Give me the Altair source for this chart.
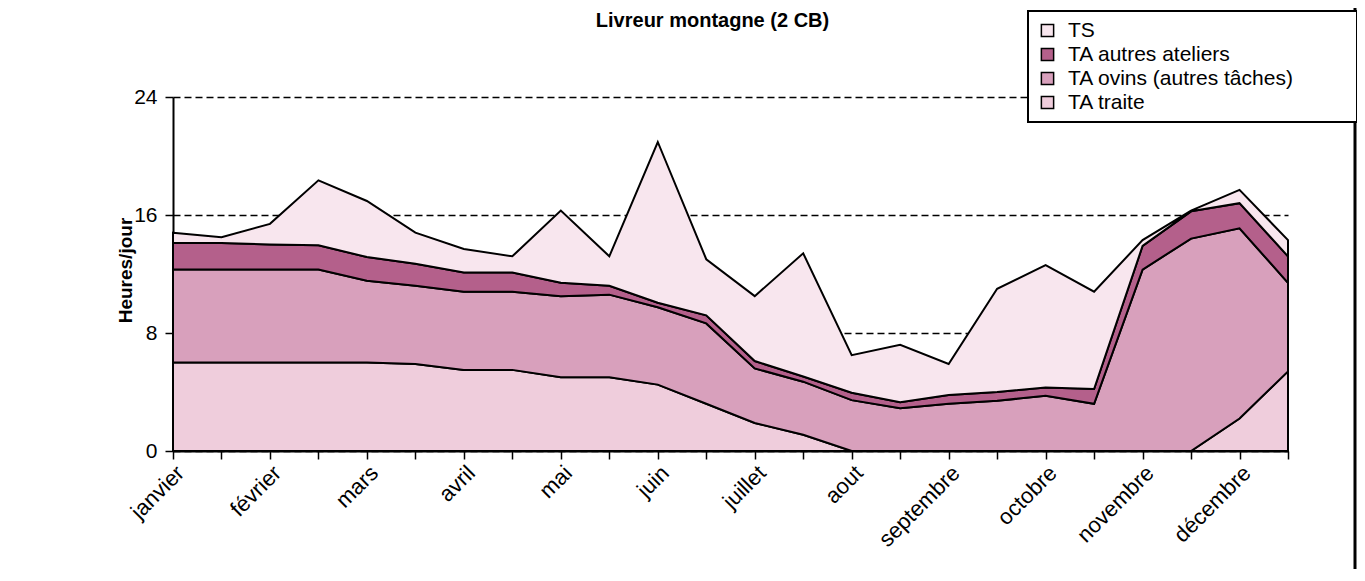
import json
import altair as alt
import pandas as pd

# ---- data ----
idx = list(range(24))  # two points per month
months = ["janvier", "février", "mars", "avril", "mai", "juin", "juillet",
          "aout", "septembre", "octobre", "novembre", "décembre"]
series_names = ["TS", "TA autres ateliers", "TA ovins (autres tâches)", "TA traite"]

ta_traite = [6.0, 6.0, 6.0, 6.0, 6.0, 5.9, 5.5, 5.5, 5.0, 5.0, 4.5, 3.2,
             1.9, 1.1, 0.0, 0.0, 0.0, 0.0, 0.0, 0.0, 0.0, 0.0, 2.2, 5.4]
ta_ovins = [6.3, 6.3, 6.3, 6.3, 5.55, 5.3, 5.3, 5.3, 5.5, 5.6, 5.25, 5.45,
            3.7, 3.6, 3.45, 2.9, 3.2, 3.4, 3.75, 3.2, 12.3, 14.4, 12.9, 6.0]
ta_autres = [1.8, 1.8, 1.7, 1.65, 1.6, 1.5, 1.3, 1.3, 0.9, 0.6, 0.3, 0.55,
             0.5, 0.35, 0.5, 0.4, 0.6, 0.6, 0.55, 1.0, 1.6, 1.85, 1.7, 1.8]
ts = [0.7, 0.4, 1.4, 4.4, 3.8, 2.1, 1.6, 1.1, 4.9, 2.0, 10.9, 3.8,
      4.4, 8.35, 2.55, 3.9, 2.1, 7.0, 8.3, 6.6, 0.4, 0.05, 0.9, 1.1]

colors = ["#f8e6ee", "#b4608b", "#d8a0bc", "#efcddc"]

rows = []
for order, (name, vals) in enumerate([("TA traite", ta_traite),
                                      ("TA ovins (autres tâches)", ta_ovins),
                                      ("TA autres ateliers", ta_autres),
                                      ("TS", ts)]):
    for i, v in zip(idx, vals):
        rows.append({"i": i, "serie": name, "h": v, "ord": order})
df = pd.DataFrame(rows)

label_expr = ("datum.value % 2 == 0 ? " + json.dumps(months, ensure_ascii=False)
              + "[datum.value / 2] : ''")

FONT = "Liberation Sans"

areas = alt.Chart(df).mark_area(
    stroke="black", strokeWidth=2, opacity=1, interpolate="linear"
).encode(
    x=alt.X("i:Q",
            scale=alt.Scale(domain=[0, 23], nice=False, zero=False),
            axis=alt.Axis(values=idx, labelExpr=label_expr, labelAngle=315,
                          tickSize=8, tickColor="black", tickWidth=1.5,
                          domainColor="black", domainWidth=2,
                          labelFontSize=22, labelColor="black", labelPadding=3,
                          labelOverlap=False, labelFlush=False, labelBound=False,
                          grid=False, title=None)),
    y=alt.Y("h:Q", stack="zero",
            scale=alt.Scale(domain=[0, 24], nice=False),
            axis=alt.Axis(values=[0, 8, 16, 24], grid=True, gridColor="black",
                          gridDash=[7, 4], gridWidth=1.3,
                          tickSize=8, tickColor="black", tickWidth=1.5,
                          domainColor="black", domainWidth=2,
                          labelFontSize=21, labelColor="black", labelPadding=8,
                          title="Heures/jour", titleFontSize=19,
                          titleFontWeight="bold", titleColor="black",
                          titleAngle=270, titleX=-48, titleY=173,
                          titleAlign="center", titleBaseline="middle")),
    color=alt.Color("serie:N",
                    scale=alt.Scale(domain=series_names, range=colors),
                    legend=alt.Legend(orient="none", legendX=855, legendY=-86,
                                      title=" ", titleOrient="right",
                                      titlePadding=54, titleFontSize=10,
                                      symbolType="square",
                                      symbolSize=150, symbolStrokeColor="black",
                                      symbolStrokeWidth=1.5, symbolOpacity=1,
                                      labelFontSize=21, labelColor="black",
                                      labelLimit=400,
                                      labelOffset=10, rowPadding=2,
                                      strokeColor="black", fillColor="white",
                                      padding=9)),
    order=alt.Order("ord:Q", sort="ascending"),
)

frame = alt.Chart(pd.DataFrame({"a": [0]})).mark_rule(
    color="black", strokeWidth=3
).encode(x=alt.value(1182), y=alt.value(-89), y2=alt.value(472))

chart = alt.layer(areas, frame).properties(
    width=1115, height=354,
    title=alt.TitleParams("Livreur montagne (2 CB)", fontSize=20,
                          fontWeight="bold", font=FONT, color="black",
                          anchor="middle", dx=-18, offset=-24),
    autosize=alt.AutoSizeParams(type="none"),
    padding={"left": 165, "top": 89, "right": 69, "bottom": 118},
    background="white",
).configure(font=FONT).configure_view(stroke=None).configure_legend(strokeWidth=2)

chart.save("out.html", embed_options={"renderer": "svg", "actions": False})
